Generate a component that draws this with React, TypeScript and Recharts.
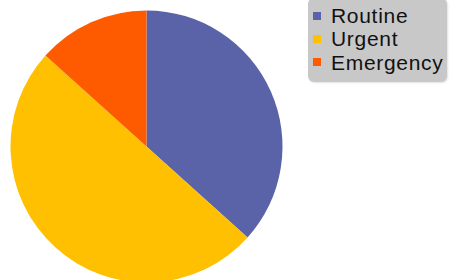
import React from 'react';
import { PieChart, Pie, Cell, Legend } from 'recharts';

const categories = ['Routine', 'Urgent', 'Emergency'];
const values = [11, 15, 4];
const colors = ['#5a62a8', '#fec000', '#fe5a00'];

const data = categories.map((name, i) => ({ name, value: values[i] }));

function LegendBox() {
  return (
    <div
      style={{
        background: '#c8c8c8',
        borderRadius: 6,
        padding: '6px 0 8px 0',
        width: 139,
        boxShadow: '1px 1px 2px rgba(0,0,0,0.12)',
      }}
    >
      {categories.map((name, i) => (
        <div key={name} style={{ display: 'flex', alignItems: 'center', height: 23.3 }}>
          <span style={{ width: 8, height: 8, background: colors[i], marginLeft: 5, marginRight: 10, flexShrink: 0 }} />
          <span
            style={{
              fontFamily: '"Liberation Sans", Arial, sans-serif',
              fontSize: 21,
              lineHeight: '23px',
              letterSpacing: 0.7,
              color: '#111',
              whiteSpace: 'nowrap',
            }}
          >
            {name}
          </span>
        </div>
      ))}
    </div>
  );
}

export default function App() {
  return (
    <div style={{ position: 'absolute', left: 0, top: 0, width: 451, height: 280, background: '#fff' }}>
      <PieChart width={451} height={280} margin={{ top: 0, right: 0, bottom: 0, left: 0 }}>
        <Pie
          data={data}
          dataKey="value"
          nameKey="name"
          cx={146.5}
          cy={146.5}
          outerRadius={136}
          startAngle={90}
          endAngle={-270}
          stroke="none"
          isAnimationActive={false}
        >
          {data.map((d, i) => (
            <Cell key={d.name} fill={colors[i]} />
          ))}
        </Pie>
        <Legend
          content={() => <LegendBox />}
          wrapperStyle={{ position: 'absolute', left: 308, top: -2, width: 'auto' }}
        />
      </PieChart>
    </div>
  );
}
